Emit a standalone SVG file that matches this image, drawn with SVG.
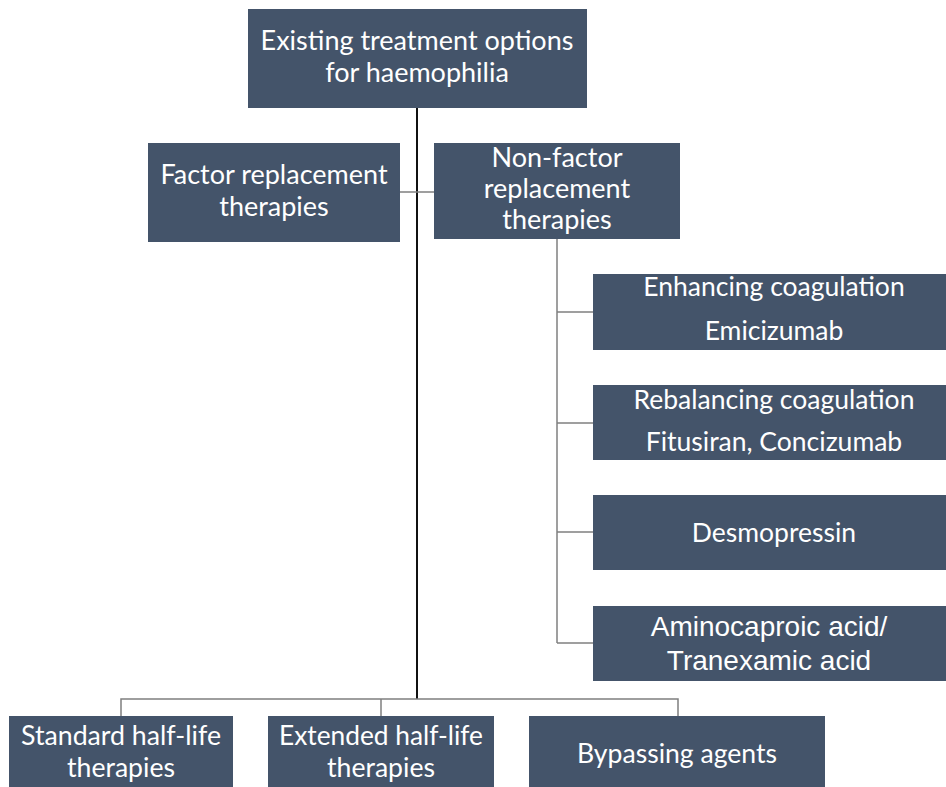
<svg xmlns="http://www.w3.org/2000/svg" width="946" height="787" viewBox="0 0 946 787">
<style>
.box{fill:#44546a;}
.t{fill:#ffffff;font-family:Lato,"Open Sans",sans-serif;text-anchor:middle;font-size:27px;}
.r{fill:#ffffff;font-family:Lato,"Open Sans",sans-serif;text-anchor:middle;font-size:26.5px;}
.a{fill:#ffffff;font-family:"Liberation Sans",Arial,sans-serif;text-anchor:middle;font-size:28px;}
.b{fill:#ffffff;font-family:Lato,"Open Sans",sans-serif;text-anchor:middle;font-size:26px;}
.ln{stroke:#7f7f7f;stroke-width:1.5;fill:none;}
.trunk{stroke:#111111;stroke-width:2;fill:none;}
</style>
<rect width="946" height="787" fill="#ffffff"/>
<g id="connectors">
<line class="trunk" x1="417" y1="108" x2="417" y2="699"/>
<line class="ln" x1="400" y1="192" x2="434" y2="192"/>
<line class="ln" x1="557" y1="239" x2="557" y2="643"/>
<line class="ln" x1="557" y1="312" x2="593" y2="312"/>
<line class="ln" x1="557" y1="423" x2="593" y2="423"/>
<line class="ln" x1="557" y1="532" x2="593" y2="532"/>
<line class="ln" x1="557" y1="643" x2="593" y2="643"/>
<path class="ln" d="M121 716 V699 H678 V716"/>
<line class="ln" x1="381" y1="699" x2="381" y2="716"/>
</g>
<g id="root">
<rect class="box" x="248" y="9" width="339" height="99"/>
<text class="t" x="417" y="50">Existing treatment options</text>
<text class="t" x="417" y="82">for haemophilia</text>
</g>
<g id="factor">
<rect class="box" x="148" y="143" width="252" height="99"/>
<text class="t" x="274" y="184">Factor replacement</text>
<text class="t" x="274" y="216">therapies</text>
</g>
<g id="nonfactor">
<rect class="box" x="434" y="143" width="246" height="96"/>
<text class="t" x="557" y="167">Non-factor</text>
<text class="t" x="557" y="198">replacement</text>
<text class="t" x="557" y="229">therapies</text>
</g>
<g id="enhancing">
<rect class="box" x="593" y="274" width="360" height="76"/>
<text class="r" x="774" y="296">Enhancing coagulation</text>
<text class="r" x="774" y="340">Emicizumab</text>
</g>
<g id="rebalancing">
<rect class="box" x="593" y="385" width="360" height="75"/>
<text class="r" x="774" y="409">Rebalancing coagulation</text>
<text class="r" x="774" y="451">Fitusiran, Concizumab</text>
</g>
<g id="desmopressin">
<rect class="box" x="593" y="495" width="360" height="75"/>
<text class="r" x="774" y="542">Desmopressin</text>
</g>
<g id="aminocaproic">
<rect class="box" x="593" y="606" width="360" height="75"/>
<text class="a" x="769" y="636">Aminocaproic acid/</text>
<text class="a" x="769" y="670">Tranexamic acid</text>
</g>
<g id="standard">
<rect class="box" x="9" y="716" width="224" height="80"/>
<text class="b" x="121" y="745" textLength="200" lengthAdjust="spacingAndGlyphs">Standard half-life</text>
<text class="b" x="121" y="777" textLength="108" lengthAdjust="spacingAndGlyphs">therapies</text>
</g>
<g id="extended">
<rect class="box" x="268" y="716" width="226" height="80"/>
<text class="b" x="381" y="745" textLength="204" lengthAdjust="spacingAndGlyphs">Extended half-life</text>
<text class="b" x="381" y="777" textLength="108" lengthAdjust="spacingAndGlyphs">therapies</text>
</g>
<g id="bypassing">
<rect class="box" x="529" y="716" width="296" height="80"/>
<text class="b" x="677" y="763" textLength="200" lengthAdjust="spacingAndGlyphs">Bypassing agents</text>
</g>
</svg>
